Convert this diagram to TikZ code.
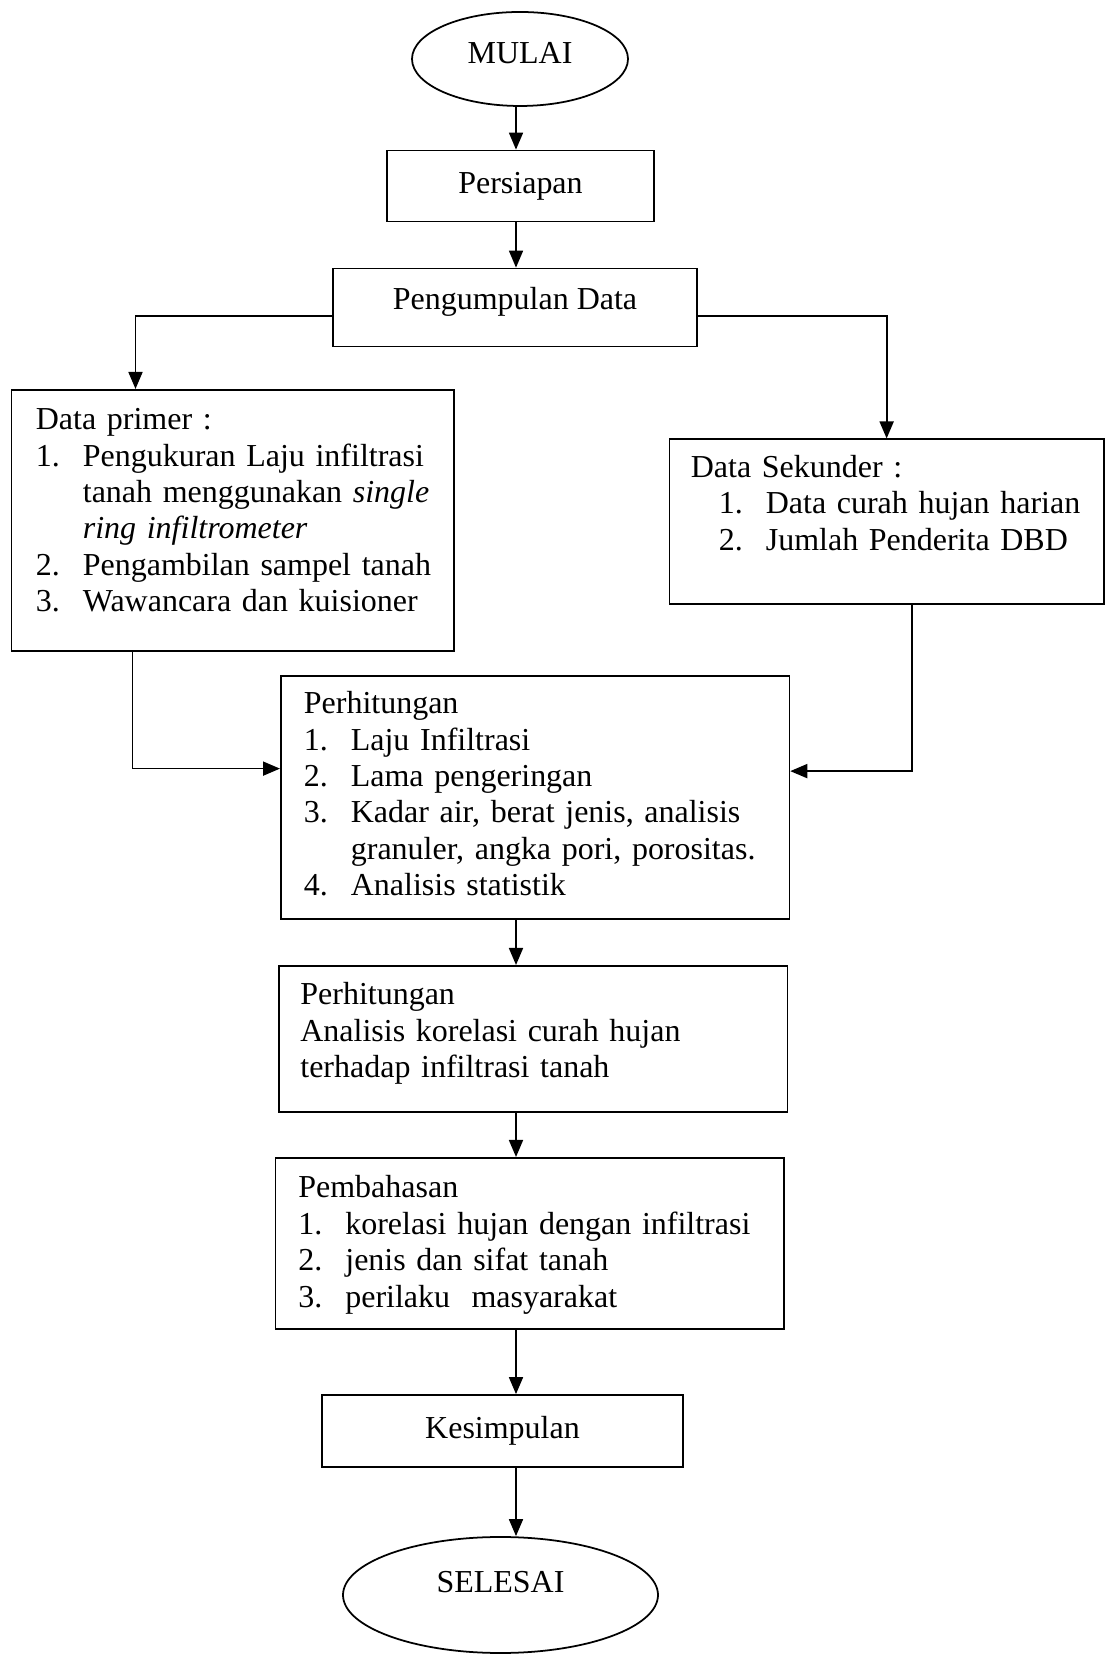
\documentclass[tikz,border=0pt]{standalone}
\usepackage{fontspec}
\setmainfont{Liberation Serif}
\usetikzlibrary{shapes.geometric, arrows.meta}

\def\pageW{22.08}
\def\pageH{33.08}
\newcommand{\boxFont}{\fontsize{18.2pt}{20.7pt}\selectfont\frenchspacing}
\newcommand{\itm}[2]{\mbox{\makebox[0.94cm][l]{#1}#2}}

\tikzset{
    termNode/.style={
        ellipse,
        draw,
        line width=1pt,
        inner sep=0pt,
        font=\boxFont,
        text height=0.4cm
    },
    stepBox/.style={
        rectangle,
        draw,
        line width=1pt,
        inner sep=0pt,
        font=\boxFont
    },
    listBox/.style={
        rectangle,
        draw,
        line width=1pt,
        anchor=north west,
        inner ysep=0pt,
        align=left,
        font=\boxFont
    },
    flowArrow/.style={
        line width=1pt,
        -{Triangle[length=0.34cm, width=0.28cm]}
    }
}

\begin{document}
\begin{tikzpicture}
    \useasboundingbox (0,0) rectangle (\pageW, \pageH);
    \fill[white] (0,0) rectangle (\pageW, \pageH);
    \coordinate (axis) at (10.32, 0);

    % Start and preparation
    \node[termNode, minimum width=4.32cm, minimum height=1.88cm, text depth=0.23cm] (mulai) at (10.40, 31.90) {MULAI};
    \node[stepBox, minimum width=5.34cm, minimum height=1.42cm] (persiapan) at (10.41, 29.36) {Persiapan};
    \node[stepBox, minimum width=7.28cm, minimum height=1.56cm, text height=0.44cm, text depth=0.34cm] (kumpul) at (10.30, 26.93) {Pengumpulan Data};

    % Data sources
    \node[listBox, inner xsep=0.49cm, text width=7.87cm, text height=0.8cm, text depth=4.42cm] (primer) at (0.21, 25.30) {
        Data primer :\\
        \itm{1.}{Pengukuran Laju infiltrasi}\\
        \itm{}{tanah menggunakan \textit{single}}\\
        \itm{}{\textit{ring infiltrometer}}\\
        \itm{2.}{Pengambilan sampel tanah}\\
        \itm{3.}{Wawancara dan kuisioner}
    };
    \node[listBox, inner xsep=0.43cm, text width=7.83cm, text height=0.76cm, text depth=2.53cm] (sekunder) at (13.37, 24.31) {
        Data Sekunder :\\
        \hspace*{0.56cm}\itm{1.}{Data curah hujan harian}\\
        \hspace*{0.56cm}\itm{2.}{Jumlah Penderita DBD}
    };

    % Processing
    \node[listBox, inner xsep=0.46cm, text width=9.25cm, text height=0.76cm, text depth=4.11cm] (perh1) at (5.60, 19.58) {
        Perhitungan\\
        \itm{1.}{Laju Infiltrasi}\\
        \itm{2.}{Lama pengeringan}\\
        \itm{3.}{Kadar air, berat jenis, analisis}\\
        \itm{}{granuler, angka pori, porositas.}\\
        \itm{4.}{Analisis statistik}
    };
    \node[listBox, inner xsep=0.43cm, text width=9.31cm, text height=0.78cm, text depth=2.15cm] (perh2) at (5.56, 13.78) {
        Perhitungan\\
        Analisis korelasi curah hujan\\
        terhadap infiltrasi tanah
    };
    \node[listBox, inner xsep=0.46cm, text width=9.25cm, text height=0.8cm, text depth=2.62cm] (pemb) at (5.49, 9.94) {
        Pembahasan\\
        \itm{1.}{korelasi hujan dengan infiltrasi}\\
        \itm{2.}{jenis dan sifat tanah}\\
        \itm{3.}{perilaku\ \ masyarakat}
    };

    % End
    \node[stepBox, minimum width=7.22cm, minimum height=1.44cm] (kes) at (10.05, 4.46) {Kesimpulan};
    \node[termNode, minimum width=6.3cm, minimum height=2.32cm, text depth=0.48cm] (selesai) at (10.01, 1.18) {SELESAI};

    % Connectors
    \draw[flowArrow] (mulai.south -| axis) -- (persiapan.north -| axis);
    \draw[flowArrow] (persiapan.south -| axis) -- (kumpul.north -| axis);
    \draw[flowArrow] ([yshift=-0.17cm]kumpul.west) -| ([xshift=2.5cm]primer.north west);
    \draw[flowArrow] ([yshift=-0.17cm]kumpul.east) -| (sekunder.north);
    \draw[flowArrow] ([xshift=2.44cm]primer.south west) |- ([yshift=0.58cm]perh1.west);
    \draw[flowArrow] ([xshift=0.5cm]sekunder.south) |- ([yshift=0.53cm]perh1.east);
    \draw[flowArrow] (perh1.south -| axis) -- (perh2.north -| axis);
    \draw[flowArrow] (perh2.south -| axis) -- (pemb.north -| axis);
    \draw[flowArrow] (pemb.south -| axis) -- (kes.north -| axis);
    \draw[flowArrow] (kes.south -| axis) -- (selesai.north -| axis);
\end{tikzpicture}
\end{document}
